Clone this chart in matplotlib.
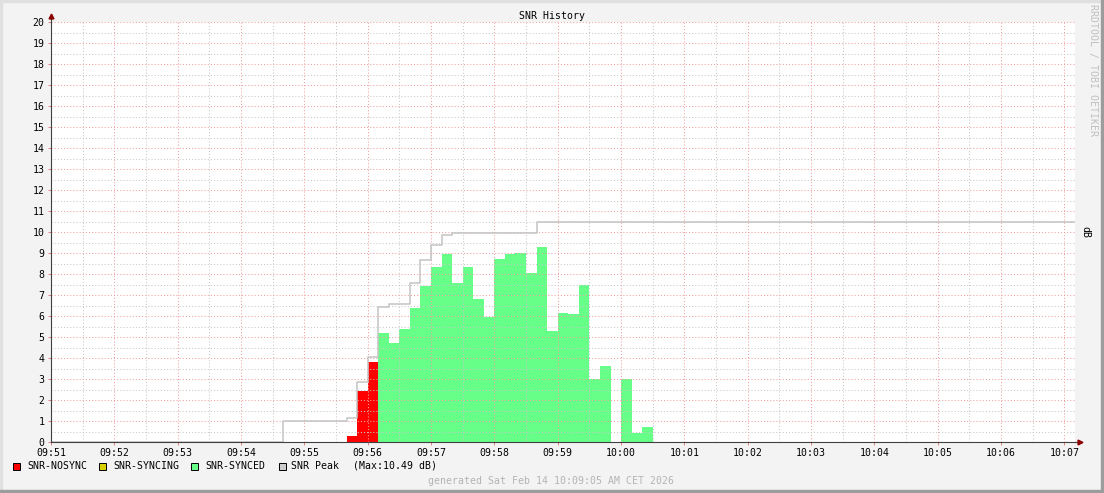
import datetime as dt
import matplotlib
matplotlib.use("Agg")
import matplotlib.pyplot as plt
import matplotlib.dates as mdates
from matplotlib.patches import Rectangle

# SNR values in dB, one bar per 10 s step (start time of the step)
nosync_times = ["09:55:40", "09:55:50", "09:56:00"]
nosync_vals = [0.29, 2.44, 3.82]

synced_times = ["09:56:10", "09:56:20", "09:56:30", "09:56:40", "09:56:50",
                "09:57:00", "09:57:10", "09:57:20", "09:57:30", "09:57:40", "09:57:50",
                "09:58:00", "09:58:10", "09:58:20", "09:58:30", "09:58:40", "09:58:50",
                "09:59:00", "09:59:10", "09:59:20", "09:59:30", "09:59:40",
                "10:00:00", "10:00:10", "10:00:20"]
synced_vals = [5.20, 4.73, 5.40, 6.40, 7.43,
               8.35, 8.97, 7.56, 8.33, 6.79, 5.97,
               8.73, 8.97, 9.02, 8.06, 9.30, 5.30,
               6.16, 6.11, 7.48, 2.98, 3.63,
               3.00, 0.41, 0.73]

# running peak (value holds from each time until the next)
peak_times = ["09:51:00", "09:54:40", "09:55:40", "09:55:50", "09:56:00", "09:56:10",
              "09:56:20", "09:56:40", "09:56:50", "09:57:00", "09:57:10", "09:57:20",
              "09:58:40", "10:07:10"]
peak_vals = [0.0, 1.00, 1.13, 2.87, 4.05, 6.44,
             6.56, 7.56, 8.65, 9.40, 9.86, 9.95,
             10.49, 10.49]

start, end = "09:51:00", "10:07:10"
step_s = 10

def t(s):
    h, m, sec = map(int, s.split(":"))
    return mdates.date2num(dt.datetime(2026, 2, 14, h, m, sec))

W, H = 1104, 493
fig = plt.figure(figsize=(W / 100, H / 100), dpi=100, facecolor="#f3f3f3")
plt.rcParams["font.family"] = "DejaVu Sans Mono"
fs = 7.1

def fx(x):
    return x / W

def fy(y):
    return 1 - y / H

ax = fig.add_axes([fx(51), fy(442), (1075 - 51) / W, (442 - 22) / H])
ax.set_facecolor("white")

width = step_s / 86400
ax.bar([t(s) for s in nosync_times], nosync_vals, width=width, align="edge",
       color="#ff0000", linewidth=0, zorder=1)
ax.bar([t(s) for s in synced_times], synced_vals, width=width, align="edge",
       color="#66ff88", linewidth=0, zorder=1)
ax.step([t(s) for s in peak_times], peak_vals, where="post", color="#c4c4c4",
        linewidth=1.1, zorder=3)

ax.set_xlim(t(start), t(end))
ax.set_ylim(0, 20)
ax.xaxis.set_major_locator(mdates.MinuteLocator())
ax.xaxis.set_minor_locator(mdates.SecondLocator(bysecond=[30]))
ax.xaxis.set_major_formatter(mdates.DateFormatter("%H:%M"))
ax.set_yticks(range(0, 21))
ax.set_yticks([i + 0.5 for i in range(20)], minor=True)

# rrdtool draws its dotted grid over the areas
ax.set_axisbelow(False)
ax.grid(which="major", color="#f0a0a0", linestyle=(0, (1, 2)), linewidth=0.75, zorder=2)
ax.grid(which="minor", color="#c8c8c8", linestyle=(0, (1, 2)), linewidth=0.75, zorder=2)

for side in ["top", "right"]:
    ax.spines[side].set_visible(False)
for side in ["left", "bottom"]:
    ax.spines[side].set_color("#404040")
    ax.spines[side].set_linewidth(0.8)
    ax.spines[side].set_zorder(4)

ax.tick_params(which="major", color="#e08080", length=2.5, width=0.7,
               labelsize=fs, labelcolor="black", pad=2)
ax.tick_params(which="minor", length=0)

# axis arrows
ax.plot([0, 0], [1, 1 + 5 / 420], color="#404040", lw=0.8, transform=ax.transAxes, clip_on=False)
ax.plot(0, 1 + 6 / 420, marker="^", ms=3.5, color="#8b0000", transform=ax.transAxes, clip_on=False)
ax.plot([1, 1 + 4 / 1024], [0, 0], color="#404040", lw=0.8, transform=ax.transAxes, clip_on=False)
ax.plot(1 + 5 / 1024, 0, marker=">", ms=3.5, color="#8b0000", transform=ax.transAxes, clip_on=False)

# texts
fig.text(fx(552), fy(16), "SNR History", ha="center", va="center", fontsize=fs)
fig.text(fx(1085), fy(232), "dB", ha="center", va="center", rotation=270, fontsize=fs)
fig.text(fx(1093), fy(4), "RRDTOOL / TOBI OETIKER", ha="center", va="top",
         rotation=270, fontsize=fs, color="#c0c0c0")
fig.text(fx(551), fy(481), "generated Sat Feb 14 10:09:05 AM CET 2026",
         ha="center", va="center", fontsize=fs, color="#b4b4b4")

legend = [("SNR-NOSYNC", "#ff0000", 13, 27),
          ("SNR-SYNCING", "#d8d000", 99, 113),
          ("SNR-SYNCED", "#66ff88", 191, 205),
          ("SNR Peak", "#cccccc", 279, 291)]
for label, col, bx, tx in legend:
    fig.patches.append(Rectangle((fx(bx), fy(470)), 7 / W, 7 / H, transform=fig.transFigure,
                                 facecolor=col, edgecolor="black", linewidth=0.7))
    fig.text(fx(tx), fy(466), label, ha="left", va="center", fontsize=fs)
fig.text(fx(353), fy(466), "(Max:%.2f dB)" % max(peak_vals), ha="left", va="center", fontsize=fs)

# frame of the image
fig.patches.append(Rectangle((0, 0), 1, 2 / H, transform=fig.transFigure, color="#e0e0e0"))
fig.patches.append(Rectangle((0, 1 - 2 / H), 1, 2 / H, transform=fig.transFigure, color="#e0e0e0"))
fig.patches.append(Rectangle((0, 0), 2 / W, 1, transform=fig.transFigure, color="#e0e0e0"))
fig.patches.append(Rectangle((1 - 3 / W, 0), 3 / W, 1, transform=fig.transFigure, color="#9c9c9c"))
fig.patches.append(Rectangle((0, 0), 1, 3 / H, transform=fig.transFigure, color="#9c9c9c"))

fig.savefig("out.png", dpi=100, facecolor=fig.get_facecolor())
